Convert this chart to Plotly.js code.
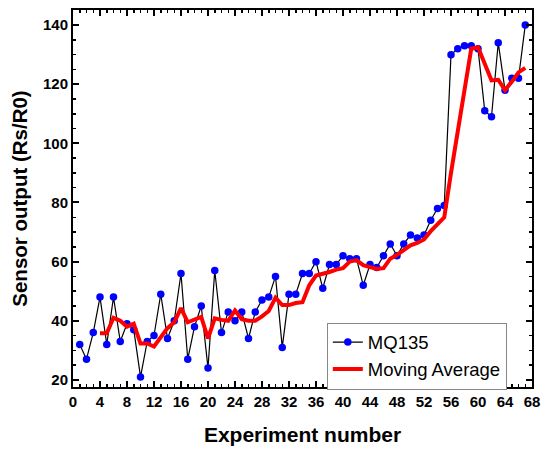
<!DOCTYPE html>
<html>
<head>
<meta charset="utf-8">
<script src="https://cdn.plot.ly/plotly-3.0.1.min.js"></script>
<style>html,body{margin:0;padding:0;background:#fff;}#chart{width:542px;height:450px;}</style>
</head>
<body>
<div id="chart"></div>
<script>
const experiment = [1,2,3,4,5,6,7,8,9,10,11,12,13,14,15,16,17,18,19,20,21,22,23,24,25,26,27,28,29,30,31,32,33,34,35,36,37,38,39,40,41,42,43,44,45,46,47,48,49,50,51,52,53,54,55,56,57,58,59,60,61,62,63,64,65,66,67];
const mq135 = [32,27,36,48,32,48,33,39,37,21,33,35,49,34,40,56,27,38,45,24,57,36,43,40,43,34,43,47,48,55,31,49,49,56,56,60,51,59,59,62,61,61,52,59,58,62,66,62,66,69,68,69,74,78,79,130,132,133,133,132,111,109,134,118,122,122,140];
const maX = [4,5,6,7,8,9,10,11,12,13,14,15,16,17,18,19,20,21,22,23,24,25,26,27,28,29,30,31,32,33,34,35,36,37,38,39,40,41,42,43,44,45,46,47,48,49,50,51,52,53,54,55,56,57,58,59,60,61,62,63,64,65,66,67];
const maY = [35.8,35.8,41,40,38,39,32.3,32.3,31.3,34.3,37.5,39.5,44.3,39.5,40.3,41.3,34,40.8,40.3,40,43.5,40.5,40,40,41.5,43.3,47.8,45.3,45.3,46,46.3,52,55.3,55.8,56.5,57.3,57.8,60,60.5,58.8,58.3,57.5,57.8,61,62.3,63.8,65.5,66.3,67.5,70.3,72.5,75,90,104.5,118.5,132,132.5,127.3,121.3,121.5,118,120.8,124,125.5];

const tickFont = {family:'Liberation Sans, Arial, sans-serif', size:15, color:'#000', weight:'bold'};
const titleFontX = {family:'Liberation Sans, Arial, sans-serif', size:21, color:'#000', weight:'bold'};
const titleFontY = {family:'Liberation Sans, Arial, sans-serif', size:20.5, color:'#000', weight:'bold'};

const traces = [
  {x: experiment, y: mq135, name:'MQ135', type:'scatter', mode:'lines+markers',
   line:{color:'#000', width:1.2}, marker:{color:'#0000ff', size:7.5}},
  {x: maX, y: maY, name:'Moving Average', type:'scatter', mode:'lines',
   line:{color:'#ff0000', width:4}}
];

const axisCommon = {
  showline:true, linecolor:'#000', linewidth:2, mirror:'allticks',
  ticks:'inside', ticklen:6, tickwidth:2, tickcolor:'#000',
  showgrid:false, zeroline:false, tickfont:tickFont
};

const layout = {
  width:542, height:450,
  margin:{l:73, r:10, t:10, b:63},
  paper_bgcolor:'#fff', plot_bgcolor:'#fff',
  showlegend:true,
  xaxis: Object.assign({}, axisCommon, {
    range:[0,68], tickmode:'linear', tick0:0, dtick:4,
    minor:{dtick:1, ticks:'inside', ticklen:3, tickwidth:1.5, tickcolor:'#000'},
    title:{text:'Experiment number', font:titleFontX, standoff:18}
  }),
  yaxis: Object.assign({}, axisCommon, {
    range:[17.6,145.1], tickmode:'linear', tick0:0, dtick:20,
    minor:{dtick:5, ticks:'inside', ticklen:3, tickwidth:1.5, tickcolor:'#000'},
    title:{text:'Sensor output (Rs/R0)', font:titleFontY, standoff:10}
  }),
  legend:{x:0.553, y:0.171, xanchor:'left', yanchor:'top',
    bgcolor:'#fff', bordercolor:'#888', borderwidth:1,
    font:{family:'Liberation Sans, Arial, sans-serif', size:18.5, color:'#000'},
    tracegroupgap:0}
};

Plotly.newPlot('chart', traces, layout, {displayModeBar:false, staticPlot:true});
</script>
</body>
</html>
